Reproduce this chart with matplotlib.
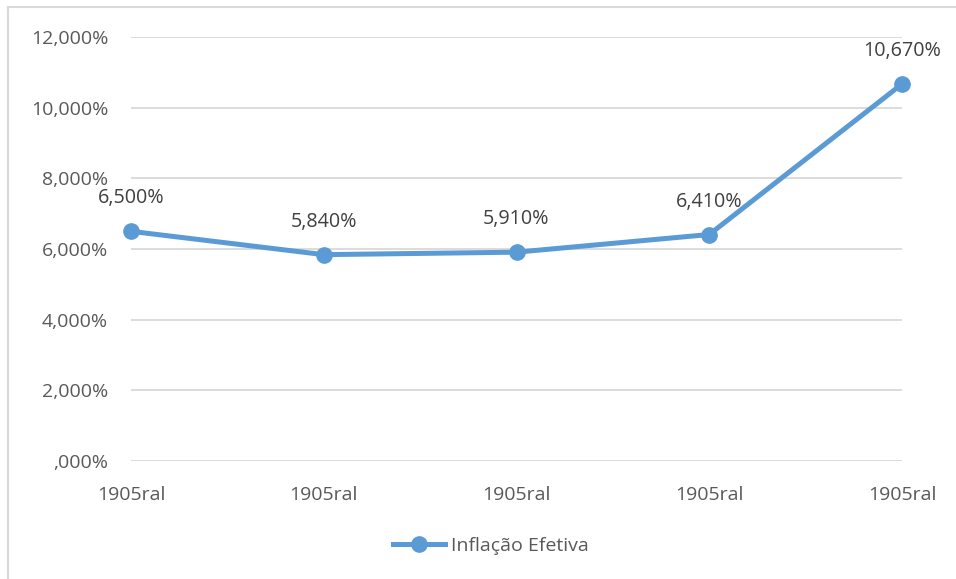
import matplotlib
matplotlib.use("Agg")
import matplotlib.pyplot as plt
from matplotlib.lines import Line2D

categories = ["1905ral", "1905ral", "1905ral", "1905ral", "1905ral"]
values = [6.50, 5.84, 5.91, 6.41, 10.67]
series_name = "Inflação Efetiva"
yticks = [0, 2, 4, 6, 8, 10, 12]

plt.rcParams['font.family'] = ['Open Sans', 'DejaVu Sans']

W, H = 956, 579
fig = plt.figure(figsize=(W/100, H/100), dpi=100)
ax = fig.add_axes([131/W, 1-461/H, (902-131)/W, (461-37)/H])

color = '#5B9BD5'
x = list(range(len(values)))
ax.plot(x, values, color=color, lw=3.6, marker='o', ms=11, solid_capstyle='round', zorder=3, clip_on=False)

def fmt(v):
    s = f"{v:.3f}".replace('.', ',')
    if s.startswith('0,'):
        s = s[1:]
    return s + '%'

for xi, v in zip(x, values):
    ax.annotate(fmt(v), (xi, v), xytext=(0, 33), textcoords='offset pixels',
                ha='center', va='center', fontsize=14.2, color='#404040')

ax.set_xlim(0, len(values)-1)
ax.set_ylim(0, 12)
ax.set_yticks(yticks)
ax.set_yticklabels([fmt(t) for t in yticks])
ax.set_xticks(x)
ax.set_xticklabels(categories)
ax.tick_params(axis='both', length=0, labelsize=14, colors='#595959')
ax.tick_params(axis='y', pad=16.5)
ax.tick_params(axis='x', pad=18)
ax.grid(axis='y', color='#D9D9D9', lw=1.3)
ax.set_axisbelow(True)
for s in ax.spines.values():
    s.set_visible(False)

h = Line2D([], [], color=color, lw=3.6, marker='o', ms=11)
fig.legend([h], [series_name], loc='center', bbox_to_anchor=(491/W, 1-546/H),
           frameon=False, fontsize=14, labelcolor='#595959', handlelength=2.7,
           handletextpad=0.3)

fig.add_artist(Line2D([8/W, 8/W], [0, 1-7/H], color='#D9D9D9', lw=1.5, transform=fig.transFigure))
fig.add_artist(Line2D([8/W, 1], [1-7/H, 1-7/H], color='#D9D9D9', lw=1.5, transform=fig.transFigure))

fig.savefig('out.png', dpi=100)
